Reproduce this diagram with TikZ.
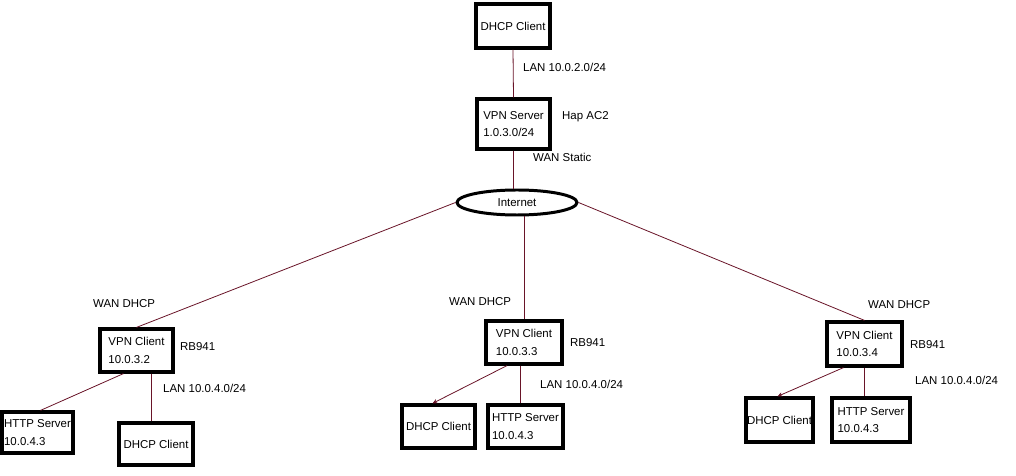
\documentclass[tikz,border=0pt]{standalone}
\usepackage{fontspec}
\setmainfont{Liberation Sans}
\usetikzlibrary{arrows.meta,shapes.geometric}
\definecolor{edgec}{RGB}{105,20,40}
\tikzset{
  box/.style={draw=black, line width=3.2pt, align=left, inner sep=1pt, font=\fontsize{11.5}{17.5}\selectfont},
  lbl/.style={anchor=west, inner sep=0pt, font=\fontsize{11.5}{13}\selectfont},
  conn/.style={draw=edgec, line width=0.8pt},
  arr/.style={conn, -{Stealth[length=5pt,width=4.5pt]}}
}
\begin{document}
\begin{tikzpicture}[x=1bp,y=-1bp]
\useasboundingbox[fill=white] (0,0) rectangle (1016,476);
% top
\node[box, minimum width=74bp, minimum height=44bp] (dt) at (513,26) {DHCP Client};
\node[box, minimum width=73bp, minimum height=50bp] (vs) at (513.5,124) {VPN Server\\1.0.3.0/24};
\node[ellipse, draw=black, line width=3pt, minimum width=120bp, minimum height=25bp, inner sep=0pt, font=\fontsize{11.5}{13}\selectfont] (inet) at (517,202.5) {Internet};
% left branch
\node[box, minimum width=73bp, minimum height=43bp] (vc1) at (136.5,350.5) {VPN Client\\10.0.3.2};
\node[box, minimum width=71bp, minimum height=41bp] (hs1) at (37.5,432.5) {HTTP Server\\10.0.4.3};
\node[box, minimum width=74bp, minimum height=42bp] (dc1) at (156,444) {DHCP Client};
% middle branch
\node[box, minimum width=76bp, minimum height=43bp] (vc2) at (524,342.5) {VPN Client\\10.0.3.3};
\node[box, minimum width=73bp, minimum height=43bp] (dc2) at (438.5,426.5) {DHCP Client};
\node[box, minimum width=75bp, minimum height=43bp] (hs2) at (525.5,426.5) {HTTP Server\\10.0.4.3};
% right branch
\node[box, minimum width=75bp, minimum height=44bp] (vc3) at (864.5,344) {VPN Client\\10.0.3.4};
\node[box, minimum width=66bp, minimum height=44bp] (dc3) at (779.5,420) {DHCP Client};
\node[box, minimum width=78bp, minimum height=44bp] (hs3) at (871,420) {HTTP Server\\10.0.4.3};
% labels
\node[lbl] (l1) at (523,67) {LAN 10.0.2.0/24};
\node[lbl] (l2) at (562,117) {Hap AC2};
\node[lbl] (l3) at (533,157) {WAN Static};
\node[lbl] (l4) at (93,304) {WAN DHCP};
\node[lbl] (l5) at (180,347) {RB941};
\node[lbl] (l6) at (163,388) {LAN 10.0.4.0/24};
\node[lbl] (l7) at (449,302) {WAN DHCP};
\node[lbl] (l8) at (570,343) {RB941};
\node[lbl] (l9) at (540,384) {LAN 10.0.4.0/24};
\node[lbl] (l10) at (868,305) {WAN DHCP};
\node[lbl] (l11) at (910,345) {RB941};
\node[lbl] (l12) at (915,380) {LAN 10.0.4.0/24};
% connectors
\draw[conn] (dt.south) -- (vs.north);
\draw[conn] (vs.south) -- (vs.south |- inet.north);
\draw[conn] (inet.west) -- (vc1.north);
\draw[conn] (vc2.north |- inet.south) -- (vc2.north);
\draw[conn] (inet.east) -- (vc3.north);
\draw[conn] ([xshift=-13bp]vc1.south) -- ([xshift=3bp]hs1.north);
\draw[conn] ([xshift=15bp]vc1.south) -- ([xshift=15bp]vc1.south |- dc1.north);
\draw[arr] ([xshift=-17bp]vc2.south) -- ([xshift=-6bp]dc2.north);
\draw[conn] ([xshift=-4bp]vc2.south) -- ([xshift=-4bp]vc2.south |- hs2.north);
\draw[arr] ([xshift=-21bp]vc3.south) -- ([xshift=-2bp]dc3.north);
\draw[conn] (vc3.south) -- (vc3.south |- hs3.north);
\end{tikzpicture}
\end{document}
